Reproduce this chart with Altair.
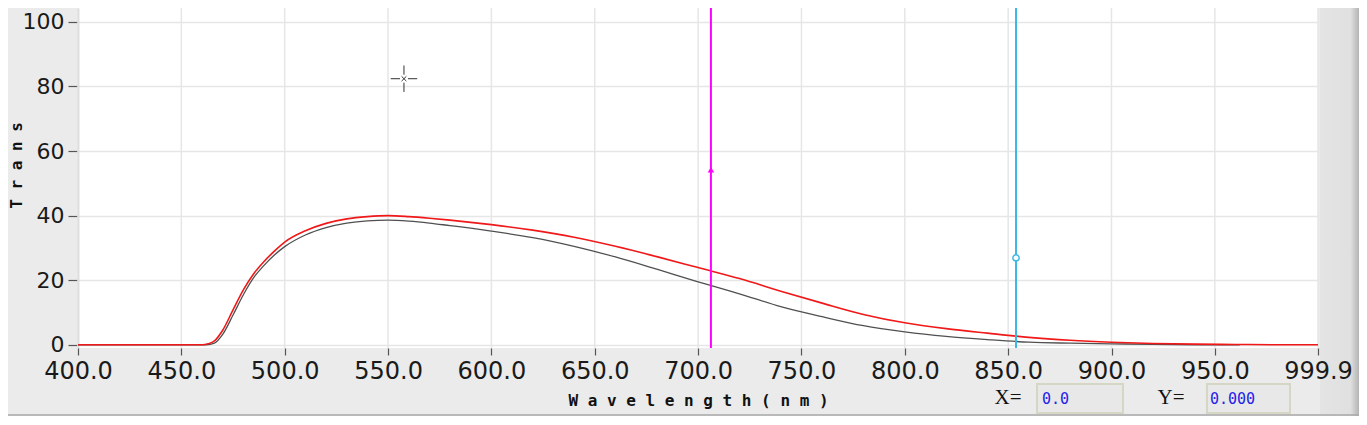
import altair as alt
import pandas as pd

# ---- data ----
wl_red = [400, 460, 463, 466, 470, 475, 480, 485, 490, 495, 500, 510, 520, 530, 540,
          550, 560, 570, 580, 590, 600, 620, 640, 660, 680, 700, 720, 740, 760, 780,
          800, 820, 840, 860, 880, 900, 920, 940, 960, 980, 999.9]
tr_red = [0, 0, 0.3, 1.2, 4.5, 10.8, 17.0, 22.0, 25.8, 29.0, 31.8, 35.3, 37.6, 39.0, 39.7,
          40.0, 39.7, 39.2, 38.6, 37.9, 37.2, 35.5, 33.3, 30.5, 27.3, 23.9, 20.5, 16.6, 12.9, 9.4,
          6.8, 5.0, 3.6, 2.3, 1.4, 0.8, 0.4, 0.2, 0.1, 0, 0]

wl_gray = [400, 462, 466, 470, 475, 480, 485, 490, 495, 500, 510, 520, 530, 540, 550,
           560, 570, 580, 590, 600, 620, 640, 660, 680, 700, 720, 740, 760, 780, 800,
           820, 840, 860, 880, 900, 920, 940, 962]
tr_gray = [0, 0, 0.5, 3.2, 9.2, 15.5, 20.8, 24.6, 27.8, 30.4, 34.0, 36.3, 37.7, 38.4, 38.6,
           38.3, 37.7, 36.9, 36.1, 35.2, 33.2, 30.5, 27.2, 23.4, 19.5, 15.8, 11.8, 8.7, 5.9, 4.0,
           2.6, 1.6, 0.8, 0.5, 0.3, 0.1, 0, 0]

x_ticks = [400, 450, 500, 550, 600, 650, 700, 750, 800, 850, 900, 950, 999.9]
y_ticks = [0, 20, 40, 60, 80, 100]

cursor_magenta = [706.2]
marker_magenta = [54.2]
cursor_cyan = [853.8]
marker_cyan = [26.9]
cross_x = [557.7]
cross_y = [82.4]

x_title = "W a v e l e n g t h ( n m )"
y_title = "T r a n s"
readout_labels = ["X=", "Y="]
readout_values = ["0.0", "0.000"]

# ---- tables ----
red_df = pd.DataFrame({"wl": wl_red, "t": tr_red})
gray_df = pd.DataFrame({"wl": wl_gray, "t": tr_gray})
xgrid_df = pd.DataFrame({"wl": x_ticks})
mag_df = pd.DataFrame({"wl": cursor_magenta, "t": marker_magenta})
cyan_df = pd.DataFrame({"wl": cursor_cyan, "t": marker_cyan})
cross_df = pd.DataFrame({"wl": cross_x, "t": cross_y})
one = pd.DataFrame({"k": [0]})

xs = alt.Scale(domain=[400, 999.9], nice=False, zero=False)
ys = alt.Scale(domain=[-1, 104.3], nice=False, zero=False)

x_axis = alt.Axis(values=x_ticks, format=".1f", labelFont="DejaVu Sans", labelFontSize=24,
                  labelColor="#1a1a1a", labelPadding=4, labelFlush=False, labelOverlap=False,
                  tickSize=7, tickColor="#555555", tickWidth=1.2, domain=False, grid=False,
                  zindex=1, title=x_title, titleFont="DejaVu Sans Mono", titleFontSize=16,
                  titleFontWeight="bold", titleColor="#111111", titleY=52,
                  titleBaseline="middle")
y_axis = alt.Axis(values=y_ticks, format="d", labelFont="DejaVu Sans", labelFontSize=22,
                  labelColor="#1a1a1a", labelPadding=4, tickSize=10, tickColor="#555555",
                  tickWidth=1.2, domainColor="#c4c4c4", domainWidth=1.5, grid=True,
                  gridColor="#e6e6e6", gridWidth=1.5, title=y_title,
                  titleFont="DejaVu Sans Mono", titleFontSize=16, titleFontWeight="bold",
                  titleColor="#111111", titleX=-57, titleY=157, titleAngle=270,
                  titleAlign="center", titleBaseline="alphabetic")

xgrid = alt.Chart(xgrid_df).mark_rule(color="#e6e6e6", strokeWidth=1.5).encode(
    x=alt.X("wl:Q", scale=xs, axis=x_axis))

gray_line = alt.Chart(gray_df).mark_line(color="#505050", strokeWidth=1.3,
                                         interpolate="monotone").encode(
    x=alt.X("wl:Q", scale=xs), y=alt.Y("t:Q", scale=ys, axis=y_axis))

red_line = alt.Chart(red_df).mark_line(color="#f01818", strokeWidth=1.6,
                                       interpolate="monotone").encode(
    x=alt.X("wl:Q", scale=xs), y=alt.Y("t:Q", scale=ys))

mag_rule = alt.Chart(mag_df).mark_rule(color="#ff00ff", strokeWidth=2).encode(
    x=alt.X("wl:Q", scale=xs))
mag_pt = alt.Chart(mag_df).mark_point(shape="triangle-up", filled=True, color="#ff00ff",
                                      size=42, opacity=1).encode(
    x=alt.X("wl:Q", scale=xs), y=alt.Y("t:Q", scale=ys))

cyan_rule = alt.Chart(cyan_df).mark_rule(color="#3cb9e2", strokeWidth=2).encode(
    x=alt.X("wl:Q", scale=xs))
cyan_pt = alt.Chart(cyan_df).mark_point(shape="circle", filled=True, fill="white",
                                        stroke="#3cb9e2", strokeWidth=1.5, size=40,
                                        opacity=1).encode(
    x=alt.X("wl:Q", scale=xs), y=alt.Y("t:Q", scale=ys))

cross_path = ("M-1,0L-0.3,0M0.3,0L1,0M0,-1L0,-0.3M0,0.3L0,1"
              "M-0.18,-0.18L0.18,0.18M-0.18,0.18L0.18,-0.18")
cross = alt.Chart(cross_df).mark_point(shape=cross_path, size=700, filled=False,
                                       stroke="#333333", strokeWidth=1, opacity=1).encode(
    x=alt.X("wl:Q", scale=xs), y=alt.Y("t:Q", scale=ys))

# ---- window decorations (outside the plot area) ----
panel = alt.Chart(one).mark_rect(
    color=alt.LinearGradient(gradient="linear", x1=0, x2=1, y1=0, y2=0,
                             stops=[alt.GradientStop(color="#e4e4e4", offset=0),
                                    alt.GradientStop(color="#e0e0e0", offset=0.78),
                                    alt.GradientStop(color="#b4b4b4", offset=1)])
).encode(x=alt.value(1242), x2=alt.value(1281), y=alt.value(0), y2=alt.value(408))

bottom_line = alt.Chart(one).mark_rule(color="#a8a8a8", strokeWidth=1.5).encode(
    x=alt.value(-70), x2=alt.value(1281), y=alt.value(407), y2=alt.value(407))

box_x = alt.Chart(one).mark_rect(fill="#e8e8e8", stroke="#d6d6c4", strokeWidth=2).encode(
    x=alt.value(959), x2=alt.value(1045), y=alt.value(376), y2=alt.value(405))
box_y = alt.Chart(one).mark_rect(fill="#e8e8e8", stroke="#d6d6c4", strokeWidth=2).encode(
    x=alt.value(1129), x2=alt.value(1212), y=alt.value(376), y2=alt.value(405))

lab_x = alt.Chart(one).mark_text(font="Liberation Serif", fontSize=21, color="#111111",
                                 align="center", baseline="middle").encode(
    x=alt.value(930), y=alt.value(390), text=alt.value(readout_labels[0]))
lab_y = alt.Chart(one).mark_text(font="Liberation Serif", fontSize=21, color="#111111",
                                 align="center", baseline="middle").encode(
    x=alt.value(1093), y=alt.value(390), text=alt.value(readout_labels[1]))
val_x = alt.Chart(one).mark_text(font="DejaVu Sans Mono", fontSize=15, color="#2323e6",
                                 align="left", baseline="middle").encode(
    x=alt.value(964), y=alt.value(391), text=alt.value(readout_values[0]))
val_y = alt.Chart(one).mark_text(font="DejaVu Sans Mono", fontSize=15, color="#2323e6",
                                 align="left", baseline="middle").encode(
    x=alt.value(1132), y=alt.value(391), text=alt.value(readout_values[1]))

chart = alt.layer(
    panel, xgrid, gray_line, red_line, mag_rule, cyan_rule, mag_pt, cyan_pt, cross,
    bottom_line, box_x, box_y, lab_x, lab_y, val_x, val_y
).properties(
    width=1240, height=340,
    background="#ebebeb",
    padding={"left": 70, "top": 0, "right": 41, "bottom": 68},
    autosize=alt.AutoSizeParams(type="none"),
).configure_view(fill="white", strokeWidth=0)

chart.save("out.html", embed_options={"renderer": "svg", "actions": False})
